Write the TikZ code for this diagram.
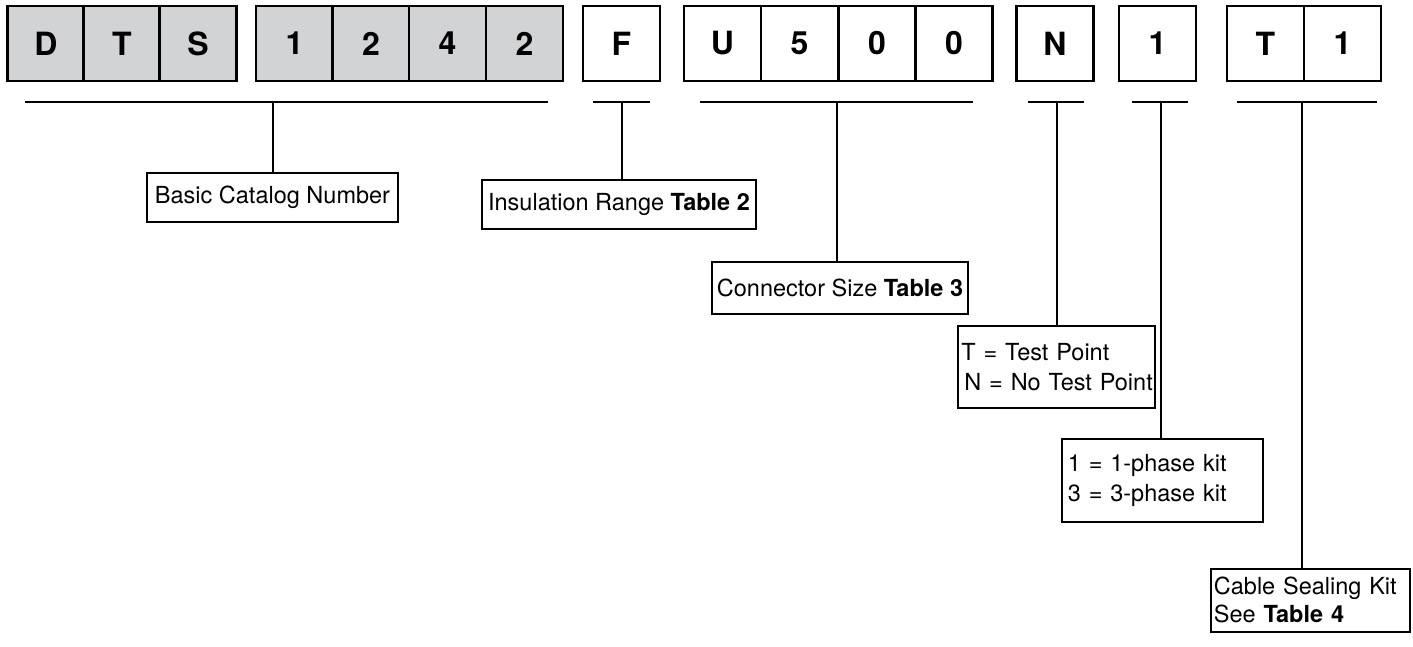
\documentclass[tikz,border=0pt]{standalone}
\usepackage{fontspec}
\setmainfont{TeX Gyre Heros}
\usetikzlibrary{positioning, calc}

\definecolor{cellgray}{RGB}{209,211,212}

\begin{document}
\begin{tikzpicture}[x=1pt, y=-1pt,
    cell/.style={draw, line width=2.6pt, minimum width=77pt, minimum height=75pt, inner sep=0pt, font=\fontsize{32}{38}\selectfont\bfseries},
    graycell/.style={cell, fill=cellgray},
    bracket/.style={line width=2.6pt},
    lbl/.style={draw, line width=1.8pt, inner sep=0pt, font=\fontsize{23.5}{30}\selectfont}]
    \useasboundingbox (0,0) rectangle (1413,646);

    % Catalog number cells
    \foreach \x/\c/\n in {46/D/d1, 122/T/d2, 198/S/d3, 294.5/1/d4, 371/2/d5, 447.5/4/d6, 524.5/2/d7}
        \node[graycell] (\n) at (\x,43.5) {\c};
    \foreach \x/\c/\n in {621.5/F/d8, 722.5/U/d9, 799.5/5/d10, 877/0/d11, 954/0/d12,
                          1055/N/d13, 1157.5/1/d14, 1265.5/T/d15, 1342.5/1/d16}
        \node[cell] (\n) at (\x,43.5) {\c};

    % Brackets under the groups
    \draw[bracket] (25,102) -- (548,102);
    \draw[bracket] (593,102) -- (650,102);
    \draw[bracket] (700,102) -- (973,102);
    \draw[bracket] (1028,102) -- (1084,102);
    \draw[bracket] (1132,102) -- (1188,102);
    \draw[bracket] (1237,102) -- (1377,102);
    \coordinate (bBasic) at (273,102);
    \coordinate (bInsul) at (622,102);
    \coordinate (bConn) at (837,102);
    \coordinate (bTest) at (1057,102);
    \coordinate (bPhase) at (1161,102);
    \coordinate (bSeal) at (1302,102);

    % Labels
    \node[lbl, minimum width=251pt, minimum height=49pt] (basic) at (272.5,197.5) {Basic Catalog Number};
    \node[lbl, minimum width=274pt, minimum height=49pt] (insul) at (619,204.5) {Insulation Range \textbf{Table 2}};
    \node[lbl, minimum width=256pt, minimum height=52pt] (conn) at (840,288) {Connector Size \textbf{Table 3}};
    \node[lbl, anchor=north west, text width=190pt, inner xsep=3.5pt, minimum height=82pt, align=left] (test) at (957,325)
        {\mbox{T = Test Point}\\ \mbox{\hspace{3pt}N = No Test Point}};
    \node[lbl, anchor=north west, text width=189pt, inner xsep=6pt, minimum height=83pt, align=left] (phase) at (1061,438)
        {\mbox{1 = 1-phase kit}\\ \mbox{3 = 3-phase kit}};
    \node[lbl, anchor=north west, text width=193pt, inner xsep=3pt, minimum height=63pt, align=left,
          font=\fontsize{23.5}{28}\selectfont] (seal) at (1210,568)
        {\mbox{Cable Sealing Kit}\\ \mbox{See \textbf{Table 4}}};

    % Connectors
    \draw[bracket] (bBasic) -- (bBasic |- basic.north);
    \draw[bracket] (bInsul) -- (bInsul |- insul.north);
    \draw[bracket] (bConn) -- (bConn |- conn.north);
    \draw[bracket] (bTest) -- (bTest |- test.north);
    \draw[bracket] (bPhase) -- (bPhase |- phase.north);
    \draw[bracket] (bSeal) -- (bSeal |- seal.north);
\end{tikzpicture}
\end{document}
